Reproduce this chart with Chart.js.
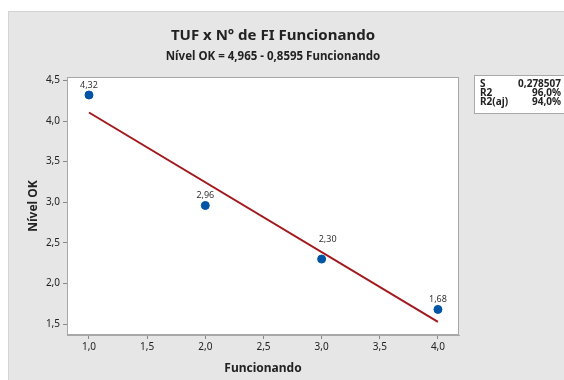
<!DOCTYPE html>
<html>
<head>
<meta charset="utf-8">
<script src="https://cdn.jsdelivr.net/npm/chart.js@4"></script>
<style>
  html, body { margin: 0; padding: 0; background: #fff; }
  #wrap { width: 564px; height: 380px; }
</style>
</head>
<body>
<div id="wrap"><canvas id="chart" width="564" height="380"></canvas></div>
<script>
// data
const funcionando = [1, 2, 3, 4];
const nivelOK = [4.32, 2.96, 2.30, 1.68];
const pointLabels = ["4,32", "2,96", "2,30", "1,68"];
const fitX = [1, 4];
const fitY = [4.105, 1.527];
const xTickValues = [1.0, 1.5, 2.0, 2.5, 3.0, 3.5, 4.0];
const yTickValues = [1.5, 2.0, 2.5, 3.0, 3.5, 4.0, 4.5];
const statNames = ["S", "R2", "R2(aj)"];
const statValues = ["0,278507", "96,0%", "94,0%"];

const FONT = "'Noto Sans', 'Open Sans', sans-serif";
const comma = v => v.toFixed(1).replace(".", ",");

// --- fundo, moldura, titulo, tabela ---
const decor = {
    id: "decor",
    beforeDraw(chart) {
        const ctx = chart.ctx, a = chart.chartArea;
        ctx.save();
        ctx.fillStyle = "#e6e6e6";
        ctx.fillRect(8, 11, 556, 369);
        ctx.strokeStyle = "#d4d4d4";
        ctx.strokeRect(8.5, 11.5, 556, 369);
        ctx.fillStyle = "#fff";
        ctx.fillRect(a.left, a.top, a.right - a.left, a.bottom - a.top);
        ctx.restore();
    },
    afterDraw(chart) {
        const ctx = chart.ctx, a = chart.chartArea;
        ctx.save();
        ctx.strokeStyle = "#a8a8a8";
        ctx.lineWidth = 1;
        ctx.strokeRect(a.left + 0.5, a.top + 0.5, a.right - a.left - 1, a.bottom - a.top - 1);

        ctx.fillStyle = "#222";
        ctx.textAlign = "center";
        ctx.textBaseline = "middle";
        ctx.font = "bold 15px " + FONT;
        ctx.fillText("TUF x N° de FI Funcionando", 273, 36);
        ctx.font = "bold 11.5px " + FONT;
        ctx.fillText("Nível OK = 4,965 - 0,8595 Funcionando", 273, 57);

        // tabela de ajuste
        ctx.fillStyle = "#fff";
        ctx.fillRect(474, 75, 90, 38);
        ctx.strokeStyle = "#a8a8a8";
        ctx.strokeRect(474.5, 75.5, 92, 38);
        ctx.fillStyle = "#222";
        ctx.font = "bold 10px " + FONT;
        statNames.forEach((n, i) => {
            ctx.textAlign = "left";
            ctx.fillText(n, 480, 84 + i * 9.3);
            ctx.textAlign = "right";
            ctx.fillText(statValues[i], 561, 84 + i * 9.3);
        });

        // rotulos dos pontos (o 2,30 sai de cima da reta)
        const meta = chart.getDatasetMeta(1);
        ctx.textAlign = "center";
        ctx.font = "9px " + FONT;
        ctx.fillStyle = "#333";
        meta.data.forEach((p, i) => {
            const dx = i === 2 ? 6 : 0, dy = i === 2 ? 20 : 10;
            ctx.fillText(pointLabels[i], p.x + dx, p.y - dy);
        });
        ctx.restore();
    }
};

new Chart(document.getElementById("chart"), {
    type: "scatter",
    data: {
        datasets: [
            {
                type: "line",
                data: fitX.map((x, i) => ({ x, y: fitY[i] })),
                borderColor: "#a3181c",
                borderWidth: 2,
                pointRadius: 0,
                fill: false
            },
            {
                data: funcionando.map((x, i) => ({ x, y: nivelOK[i] })),
                backgroundColor: "#0054a6",
                borderColor: "#0054a6",
                pointRadius: 4,
                pointHoverRadius: 4
            }
        ]
    },
    options: {
        responsive: false,
        animation: false,
        events: [],
        layout: { padding: { top: 77, right: 105, left: 0, bottom: 0 } },
        plugins: { legend: { display: false }, tooltip: { enabled: false }, title: { display: false } },
        scales: {
            x: {
                type: "linear",
                min: 0.811, max: 4.181,
                afterBuildTicks: s => { s.ticks = xTickValues.map(v => ({ value: v })); },
                afterFit: s => { s.height = 45; },
                grid: { drawOnChartArea: false, drawTicks: true, tickLength: 4, color: "#888" },
                border: { display: true, color: "#a8a8a8" },
                ticks: { callback: v => comma(v), color: "#222", font: { family: FONT, size: 10 }, padding: 2, maxRotation: 0 },
                title: { display: true, text: "Funcionando", color: "#222", font: { family: FONT, size: 12, weight: "bold" }, padding: { top: 1 } }
            },
            y: {
                type: "linear",
                min: 1.365, max: 4.542,
                afterBuildTicks: s => { s.ticks = yTickValues.map(v => ({ value: v })); },
                afterFit: s => { s.width = 67; },
                grid: { drawOnChartArea: false, drawTicks: true, tickLength: 4, color: "#888" },
                border: { display: true, color: "#a8a8a8" },
                ticks: { callback: v => comma(v), color: "#222", font: { family: FONT, size: 10 }, padding: 3 },
                title: { display: true, text: "Nível OK", color: "#222", font: { family: FONT, size: 12, weight: "bold" }, padding: { top: 26, bottom: 0 } }
            }
        }
    },
    plugins: [decor]
});
</script>
</body>
</html>
